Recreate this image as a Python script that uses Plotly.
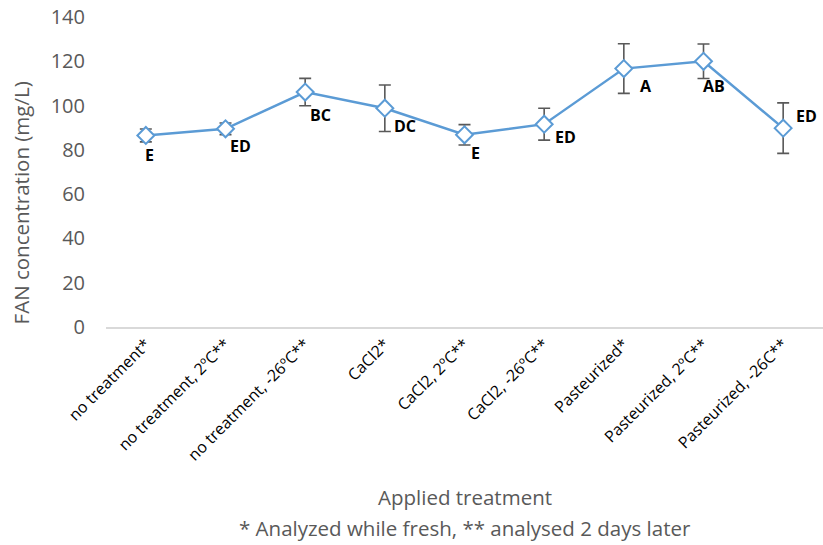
import plotly.graph_objects as go

categories = ["no treatment*", "no treatment, 2ºC**", "no treatment, -26ºC**",
              "CaCl2*", "CaCl2, 2ºC**", "CaCl2, -26ºC**",
              "Pasteurized*", "Pasteurized, 2ºC**", "Pasteurized, -26C**"]
fan_values = [86.5, 89.5, 106.1, 98.8, 86.8, 91.6, 116.7, 120.0, 89.8]
fan_errors = [2.9, 2.6, 6.2, 10.5, 4.6, 7.2, 11.2, 7.8, 11.4]
group_labels = ["E", "ED", "BC", "DC", "E", "ED", "A", "AB", "ED"]
label_dx = [4, 15, 15, 20, 11, 21, 22, 10, 23]
label_dy = [-20, -17, -23, -18, -18, -13, -17, -25, 12]

blue = "#5B9BD5"
gray = "#595959"
font_main = "Open Sans"

fig = go.Figure()
fig.add_trace(go.Scatter(
    x=categories, y=fan_values, mode="lines+markers",
    line=dict(color=blue, width=2.5),
    marker=dict(symbol="diamond", size=13, color="white",
                line=dict(color=blue, width=2)),
    error_y=dict(type="data", array=fan_errors, visible=True,
                 color=gray, thickness=1.6, width=6),
    showlegend=False,
))

for c, v, t, dx, dy in zip(categories, fan_values, group_labels, label_dx, label_dy):
    fig.add_annotation(x=c, y=v, xref="x", yref="y", text="<b>%s</b>" % t,
                       showarrow=False, xshift=dx, yshift=dy,
                       font=dict(family=font_main, size=16, color="black"))

# axis titles as annotations
fig.add_annotation(xref="paper", yref="paper", x=0.5, y=-0.549,
                   xanchor="center", yanchor="middle",
                   text="Applied treatment", showarrow=False,
                   font=dict(family=font_main, size=20.5, color=gray))
fig.add_annotation(xref="paper", yref="paper", x=0.5, y=-0.649,
                   xanchor="center", yanchor="middle",
                   text="* Analyzed while fresh, ** analysed 2 days later", showarrow=False,
                   font=dict(family=font_main, size=20.5, color=gray))
fig.add_annotation(xref="paper", yref="paper", x=-0.118, y=0.40,
                   xanchor="center", yanchor="middle",
                   text="FAN concentration (mg/L)", showarrow=False, textangle=-90,
                   font=dict(family=font_main, size=20.5, color=gray))

fig.update_layout(
    width=823, height=545,
    margin=dict(l=106, r=0, t=17, b=218),
    plot_bgcolor="white", paper_bgcolor="white",
    font=dict(family=font_main),
)
fig.update_xaxes(
    type="category", range=[-0.5, 8.5], tickangle=-45,
    showgrid=False, showline=True, linecolor="#D9D9D9", linewidth=1.5,
    ticks="", tickfont=dict(family=font_main, size=16, color="black"),
    zeroline=False,
)
fig.update_yaxes(
    range=[0, 140], dtick=20, showgrid=False, zeroline=False, showline=False,
    tickfont=dict(family=font_main, size=20, color=gray), ticks="",
    ticklabelstandoff=20,
)

fig.write_html("out.html")
